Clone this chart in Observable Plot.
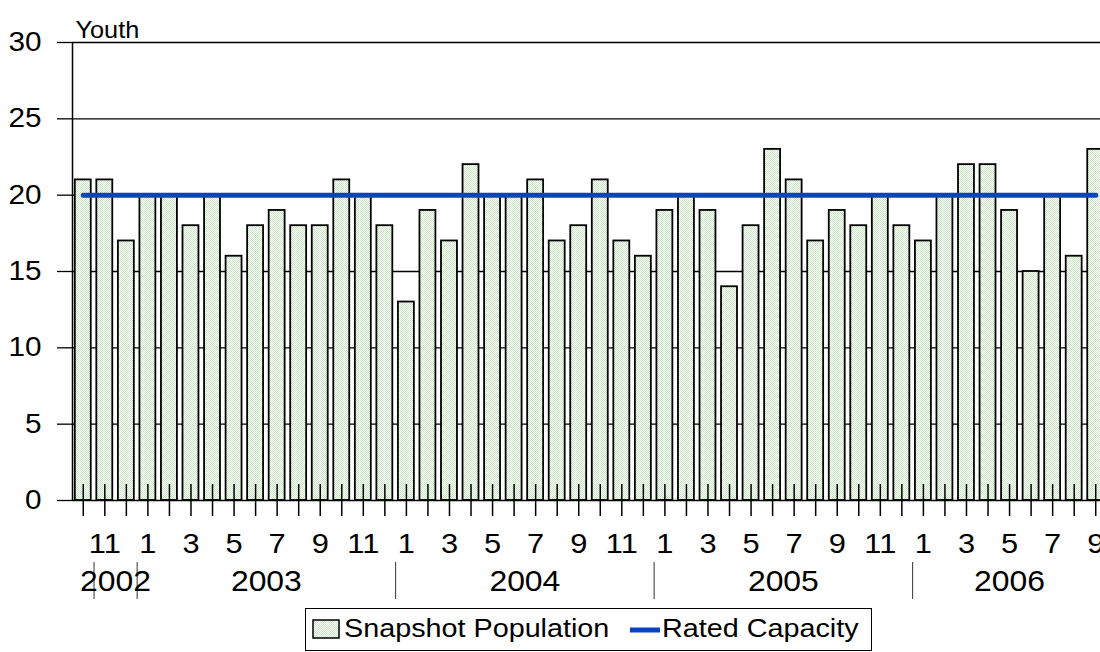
<!DOCTYPE html>
<html><head><meta charset="utf-8">
<script src="https://cdn.jsdelivr.net/npm/d3@7"></script>
<script src="https://cdn.jsdelivr.net/npm/@observablehq/plot@0.6"></script>
<style>
html,body{margin:0;padding:0;background:#fff;overflow:hidden;width:1100px;height:652px;}
body{font-family:"Liberation Sans",Arial,sans-serif;position:relative;}
#chart svg{display:block;max-width:none !important;}
#legend{position:absolute;left:305px;top:608px;width:567px;height:43px;border:1.5px solid #000;box-sizing:border-box;font-size:25px;color:#000;background:#fff;}
#legend > *{position:absolute;}
#legend span{white-space:nowrap;line-height:25px;top:7px;transform:scaleX(1.15);transform-origin:left center;}
</style></head><body>
<div id="chart"></div>
<div id="legend">
  <svg width="29" height="21" style="left:6px;top:10px"><rect x="1" y="1" width="26" height="18" fill="url(#dots)" stroke="#000" stroke-width="1.5"/></svg>
  <span style="left:38px">Snapshot Population</span>
  <svg width="32" height="8" style="left:323px;top:17px"><line x1="1" x2="31" y1="4" y2="4" stroke="#0a42c6" stroke-width="5"/></svg>
  <span style="left:356px">Rated Capacity</span>
</div>
<script>
const monthNumbers = [10,11,12,
  1,2,3,4,5,6,7,8,9,10,11,12,
  1,2,3,4,5,6,7,8,9,10,11,12,
  1,2,3,4,5,6,7,8,9,10,11,12,
  1,2,3,4,5,6,7,8,9];
const population = [21,21,17,
  20,20,18,20,16,18,19,18,18,21,20,18,
  13,19,17,22,20,20,21,17,18,21,17,16,
  19,20,19,14,18,23,21,17,19,18,20,18,
  17,20,22,22,19,15,20,16,23];
const ratedCapacity = [20,20,20,
  20,20,20,20,20,20,20,20,20,20,20,20,
  20,20,20,20,20,20,20,20,20,20,20,20,
  20,20,20,20,20,20,20,20,20,20,20,20,
  20,20,20,20,20,20,20,20,20];
const yearNames = ["2002","2003","2004","2005","2006"];
const yearStart = [1,3,15,27,39];
const yearEnd = [3,15,27,39,48];
const yTicks = [0,5,10,15,20,25,30];

const rows = monthNumbers.map((m,i)=>({i, month:m, population:population[i], capacity:ratedCapacity[i]}));
const yearRows = yearNames.map((y,k)=>({year:y, start:yearStart[k], end:yearEnd[k]}));

const chart = Plot.plot({
  width:1106, height:605, marginLeft:72, marginRight:0, marginTop:42, marginBottom:105,
  style:{fontFamily:"'Liberation Sans', Arial, sans-serif", color:"#000", background:"transparent", overflow:"visible", maxWidth:"none"},
  x:{type:"linear", domain:[0,48], axis:null},
  y:{domain:[0,30], axis:null},
  marks:[
    Plot.ruleY(yTicks.filter(v=>v>0), {stroke:"#000", strokeWidth:1.3}),
    Plot.axisY({ticks:yTicks, tickSize:15, tickPadding:16, fontSize:27, label:null, strokeWidth:1.3}),
    Plot.rectY(rows, {x1:d=>d.i, x2:d=>d.i+1, y:"population", insetLeft:2.8, insetRight:2.8, fill:"url(#dots)", stroke:"#000", strokeWidth:1.8}),
    Plot.ruleX(rows, {x:d=>d.i+0.5, y1:0, y2:0, insetTop:-16, insetBottom:-16, stroke:"#000", strokeWidth:1.5}),
    Plot.ruleY([0], {stroke:"#000", strokeWidth:1.5}),
    Plot.ruleX([0], {stroke:"#000", strokeWidth:1.5}),
    Plot.lineY(rows, {x:d=>d.i+0.5, y:"capacity", stroke:"#0a42c6", strokeWidth:5}),
    Plot.text(rows.filter(d=>d.month%2===1), {x:d=>d.i+0.5, y:0, text:d=>String(d.month), dy:43.5, fontSize:28}),
    Plot.ruleX(yearStart, {x:d=>d, y1:0, y2:0, insetTop:62, insetBottom:-99, stroke:"#333", strokeWidth:1}),
    Plot.text(yearRows, {x:d=>(d.start+d.end)/2, y:0, text:"year", dy:81, fontSize:29}),
    Plot.text(["Youth"], {frameAnchor:"top-left", dx:3, dy:-21, fontSize:23, textAnchor:"start"})
  ]
});
const defs = d3.select(chart).insert("defs", ":first-child");
const pat = defs.append("pattern").attr("id","dots").attr("width",2).attr("height",2).attr("patternUnits","userSpaceOnUse");
pat.append("rect").attr("width",2).attr("height",2).attr("fill","#ffffff");
pat.append("rect").attr("x",0).attr("y",0).attr("width",1).attr("height",1).attr("fill","#c8e8c1");
pat.append("rect").attr("x",1).attr("y",1).attr("width",1).attr("height",1).attr("fill","#c8e8c1");
// the reference's lettering is slightly wide; stretch each text horizontally about its anchor
d3.select(chart).selectAll("text").each(function(){
  const t = this.getAttribute("transform");
  if (t) this.setAttribute("transform", t + " scale(1.1,1)");
  else {
    const x = +this.getAttribute("x") || 0, y = +this.getAttribute("y") || 0;
    this.removeAttribute("x"); this.removeAttribute("y");
    this.setAttribute("transform", `translate(${x},${y}) scale(1.1,1)`);
  }
});
document.getElementById("chart").appendChild(chart);
</script>
</body></html>
